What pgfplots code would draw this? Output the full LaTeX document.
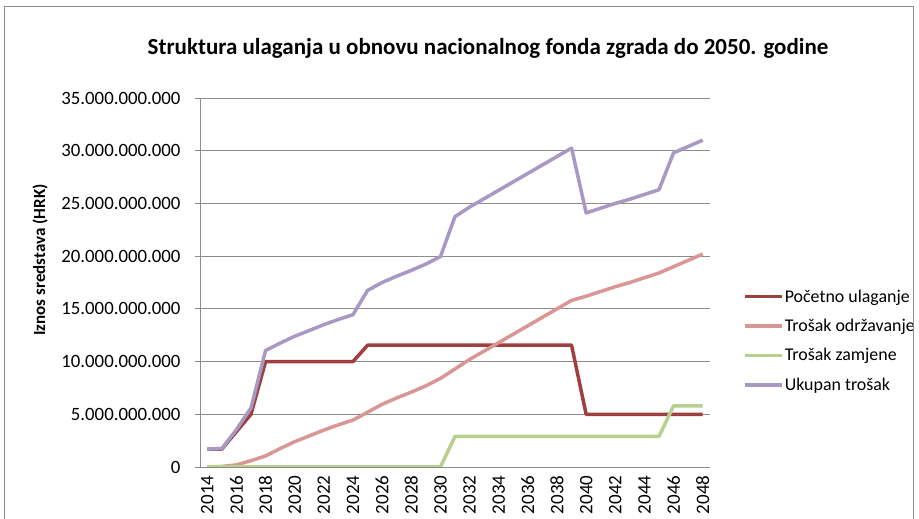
\documentclass[border=0pt]{standalone}
\usepackage{fontspec}
\setmainfont{Carlito}
\usepackage{pgfplots}
\pgfplotsset{compat=1.18}

\definecolor{cRed}{HTML}{A0403E}
\definecolor{cPink}{HTML}{D99694}
\definecolor{cGreen}{HTML}{B8D08E}
\definecolor{cPurple}{HTML}{A899C4}
\definecolor{cGrid}{HTML}{8C8C8C}

\begin{document}
\begin{tikzpicture}
\begin{axis}[
    scale only axis,
    width=510pt, height=369pt,
    xmin=2013.5, xmax=2048.5,
    ymin=0, ymax=35,
    axis x line*=bottom, axis y line*=left,
    axis line style={cGrid, line width=0.8pt, -},
    xtick={2014,2016,...,2048},
    xticklabels={2014,2016,2018,2020,2022,2024,2026,2028,2030,2032,2034,2036,2038,2040,2042,2044,2046,2048},
    xticklabel style={rotate=90, anchor=east, font=\fontsize{19}{22}\selectfont},
    major x tick style={draw=none},
    ytick={0,5,...,35},
    yticklabels={0,5.000.000.000,10.000.000.000,15.000.000.000,20.000.000.000,25.000.000.000,30.000.000.000,35.000.000.000},
    yticklabel style={font=\fontsize{18.8}{22}\selectfont, xshift=-11pt},
    major y tick style={cGrid, line width=0.8pt},
    tick align=outside, major tick length=5pt,
    ymajorgrids, major grid style={cGrid, line width=0.8pt},
    every axis plot/.append style={line width=3.5pt, line join=round},
    legend style={draw=none, fill=none, at={(1.059,0.342)}, anchor=west,
        font=\fontsize{17.9}{21}\selectfont, row sep=11.5pt,
        nodes={inner xsep=1pt}},
    legend cell align=left,
    legend image code/.code={\draw[#1] (0pt,0pt) -- (37pt,0pt);},
]
% Pocetno ulaganje (values in 10^9 HRK)
\addplot[cRed] coordinates {
(2014,1.7) (2015,1.7) (2016,3.35) (2017,5.0) (2018,10.0) (2019,10.0) (2020,10.0)
(2021,10.0) (2022,10.0) (2023,10.0) (2024,10.0) (2025,11.55) (2026,11.55) (2027,11.55)
(2028,11.55) (2029,11.55) (2030,11.55) (2031,11.55) (2032,11.55) (2033,11.55) (2034,11.55)
(2035,11.55) (2036,11.55) (2037,11.55) (2038,11.55) (2039,11.55) (2040,5.0) (2041,5.0)
(2042,5.0) (2043,5.0) (2044,5.0) (2045,5.0) (2046,5.0) (2047,5.0) (2048,5.0)};
\addlegendentry{Početno ulaganje}
% Trosak odrzavanje
\addplot[cPink] coordinates {
(2014,0.0) (2015,0.05) (2016,0.2) (2017,0.6) (2018,1.05) (2019,1.75) (2020,2.4)
(2021,2.95) (2022,3.5) (2023,4.0) (2024,4.45) (2025,5.2) (2026,5.95) (2027,6.55)
(2028,7.1) (2029,7.7) (2030,8.4) (2031,9.3) (2032,10.2) (2033,11.0) (2034,11.8)
(2035,12.6) (2036,13.4) (2037,14.2) (2038,15.0) (2039,15.8) (2040,16.2) (2041,16.65)
(2042,17.1) (2043,17.5) (2044,17.95) (2045,18.4) (2046,19.0) (2047,19.6) (2048,20.2)};
\addlegendentry{Trošak održavanje}
% Trosak zamjene
\addplot[cGreen] coordinates {
(2014,0) (2015,0) (2016,0) (2017,0) (2018,0) (2019,0) (2020,0) (2021,0) (2022,0)
(2023,0) (2024,0) (2025,0) (2026,0) (2027,0) (2028,0) (2029,0) (2030,0) (2031,2.9)
(2032,2.9) (2033,2.9) (2034,2.9) (2035,2.9) (2036,2.9) (2037,2.9) (2038,2.9) (2039,2.9)
(2040,2.9) (2041,2.9) (2042,2.9) (2043,2.9) (2044,2.9) (2045,2.9) (2046,5.8) (2047,5.8)
(2048,5.8)};
\addlegendentry{Trošak zamjene}
% Ukupan trosak
\addplot[cPurple] coordinates {
(2014,1.7) (2015,1.75) (2016,3.55) (2017,5.6) (2018,11.05) (2019,11.75) (2020,12.4)
(2021,12.95) (2022,13.5) (2023,14.0) (2024,14.45) (2025,16.75) (2026,17.5) (2027,18.1)
(2028,18.65) (2029,19.25) (2030,19.95) (2031,23.75) (2032,24.65) (2033,25.45) (2034,26.25)
(2035,27.05) (2036,27.85) (2037,28.65) (2038,29.45) (2039,30.25) (2040,24.1) (2041,24.55)
(2042,25.0) (2043,25.4) (2044,25.85) (2045,26.3) (2046,29.8) (2047,30.4) (2048,31.0)};
\addlegendentry{Ukupan trošak}
\end{axis}
% title and y label
\node[font=\bfseries\fontsize{23}{27}\selectfont] at (288pt,419pt)
  {Struktura ulaganja u obnovu nacionalnog fonda zgrada do 2050. godine};
\node[rotate=90, font=\bfseries\fontsize{17}{20}\selectfont] at (-160pt,207pt)
  {Iznos sredstava (HRK)};
% chart area frame
\draw[cGrid, line width=1pt] (-195pt,-60pt) -- (-195pt,460pt) -- (713pt,460pt) -- (713pt,-60pt);
\pgfresetboundingbox
\useasboundingbox (-200pt,-52pt) rectangle (719pt,467pt);
\end{tikzpicture}
\end{document}
